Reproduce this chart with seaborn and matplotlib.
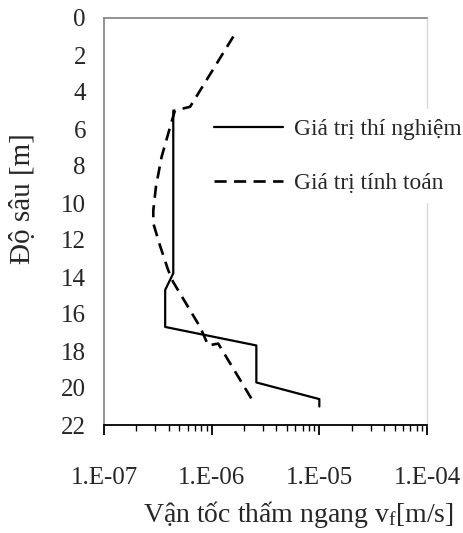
import numpy as np
import pandas as pd
import matplotlib
matplotlib.use("Agg")
import matplotlib.pyplot as plt
import seaborn as sns

# ---- data ----
depth_test = [5.0, 13.8, 14.7, 16.7, 17.7, 19.7, 20.6, 21.0]
vf_test = [4.4e-7, 4.4e-7, 3.7e-7, 3.7e-7, 2.6e-6, 2.6e-6, 1.0e-5, 1.0e-5]

depth_calc = [1.0, 4.8, 5.0, 5.6, 7.5, 9.1, 10.4, 11.1, 12.3, 13.6, 14.25, 16.7, 17.7, 17.6, 20.9]
vf_calc = [1.59e-6, 6.3e-7, 4.56e-7, 4.25e-7, 3.43e-7, 3.04e-7, 2.87e-7, 2.87e-7,
           3.31e-7, 3.93e-7, 4.37e-7, 7.8e-7, 9.3e-7, 1.15e-6, 2.53e-6]

label_test = "Giá trị thí nghiệm"
label_calc = "Giá trị tính toán"

x_ticks = [1e-7, 1e-6, 1e-5, 1e-4]
x_tick_labels = ["1.E-07", "1.E-06", "1.E-05", "1.E-04"]
y_ticks = list(range(0, 23, 2))

sns.set_style("white")
plt.rcParams["font.family"] = ["Liberation Serif", "DejaVu Serif"]
plt.rcParams["mathtext.fontset"] = "custom"
plt.rcParams["mathtext.rm"] = "Liberation Serif"
plt.rcParams["mathtext.it"] = "Liberation Serif:italic"

FS = 18
fig = plt.figure(figsize=(4.64, 5.33), dpi=100)
ax = fig.add_axes([104/464, 1 - 425/533, (427 - 104)/464, (425 - 18)/533])

df_test = pd.DataFrame({"vf": vf_test, "depth": depth_test})
df_calc = pd.DataFrame({"vf": vf_calc, "depth": depth_calc})

sns.lineplot(data=df_test, x="vf", y="depth", sort=False, estimator=None,
             color="black", linewidth=1.6, label=label_test, ax=ax)
sns.lineplot(data=df_calc, x="vf", y="depth", sort=False, estimator=None,
             color="black", linewidth=1.9, linestyle=(0, (4.6, 2.8)),
             label=label_calc, ax=ax)

ax.set_xscale("log")
ax.set_xlim(1e-7, 1e-4)
ax.set_ylim(22, 0)
ax.set_xticks(x_ticks)
ax.set_xticklabels(x_tick_labels)
ax.xaxis.set_minor_locator(matplotlib.ticker.LogLocator(base=10, subs=np.arange(2, 10)))
ax.xaxis.set_minor_formatter(matplotlib.ticker.NullFormatter())
ax.set_yticks(y_ticks)
ax.set_yticklabels([str(v) for v in y_ticks])

ax.tick_params(axis="x", which="major", direction="out", length=7, width=1.3,
               color="black", pad=23, labelsize=FS, bottom=True)
ax.tick_params(axis="x", which="minor", direction="out", length=4, width=1.0,
               color="black", bottom=True)
ax.tick_params(axis="y", length=0, pad=13, labelsize=FS, left=True)

for side, col, lw in [("left", "#808080", 1.2), ("top", "#808080", 1.2),
                      ("right", "#d8d8d8", 1.0), ("bottom", "black", 1.3)]:
    ax.spines[side].set_visible(True)
    ax.spines[side].set_color(col)
    ax.spines[side].set_linewidth(lw)

ax.set_xlabel("")
ax.set_ylabel("")
fig.text(298/464, 1 - 515/533, "Vận tốc thấm ngang v$_{\\mathrm{f}}$[m/s]",
         ha="center", va="center", fontsize=20)
fig.text(23/464, 1 - 199/533, "Độ sâu [m]", rotation=90,
         ha="center", va="center", fontsize=21)

leg = ax.legend(loc="upper left", bbox_to_anchor=(205/464, 1 - 109/533),
                bbox_transform=fig.transFigure, fontsize=16.8, frameon=True,
                fancybox=False, edgecolor="none", facecolor="white", framealpha=1,
                handlelength=2.95, handletextpad=0.45, labelspacing=1.42,
                borderpad=0.4, borderaxespad=0)

fig.savefig("out.png", dpi=100)
